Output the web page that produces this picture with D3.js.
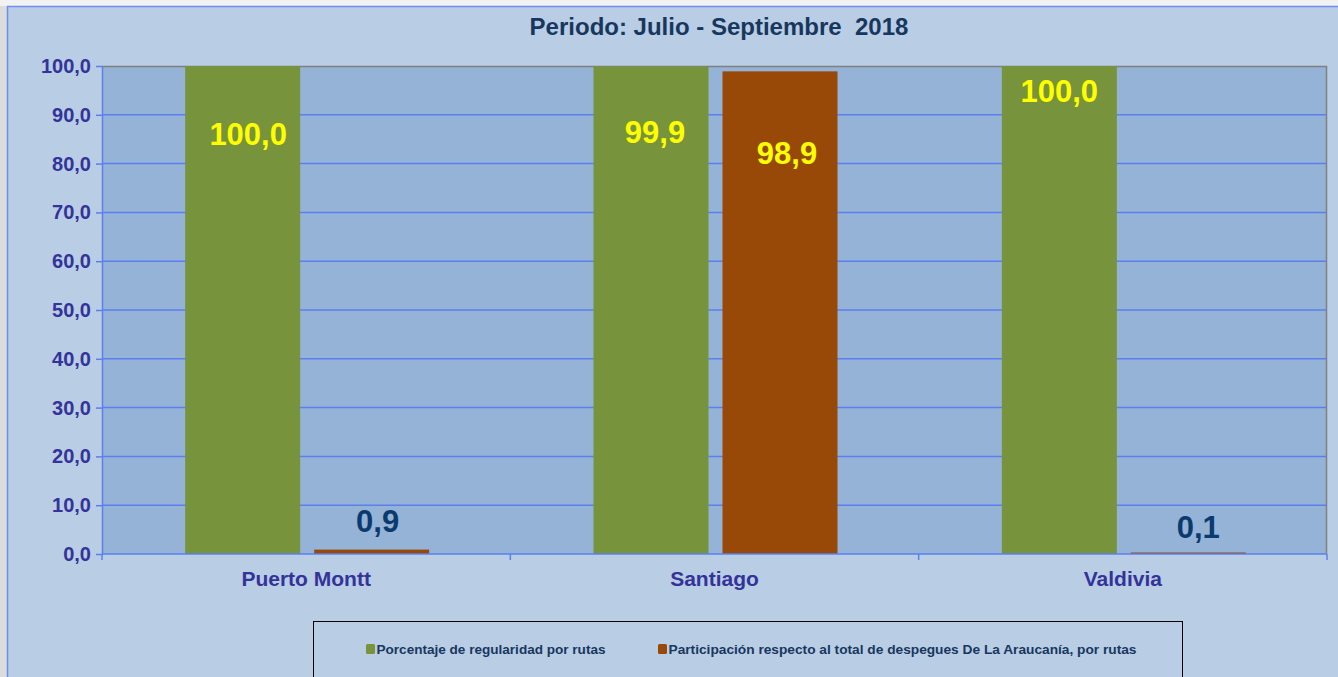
<!DOCTYPE html>
<html>
<head>
  <meta charset="UTF-8">
  <title>Periodo: Julio - Septiembre 2018</title>
  <script src="https://d3js.org/d3.v7.min.js"></script>
  <style>
    body { margin: 0; background: #dcdcdc; }
    svg { display: block; font-family: "Liberation Sans", Arial, sans-serif; }
  </style>
</head>
<body>
  <svg width="1338" height="677"></svg>

  <script>
    const routes = ['Puerto Montt', 'Santiago', 'Valdivia'];
    const regularidad = [100.0, 99.9, 100.0];
    const participacion = [0.9, 98.9, 0.1];
    const seriesNames = ['Porcentaje de regularidad por rutas',
      'Participación respecto al total de despegues De La Araucanía, por rutas'];
    const yTicks = [0, 10, 20, 30, 40, 50, 60, 70, 80, 90, 100];

    const colors = ['#77933c', '#984807'];
    // label nudges (px) from the bar top, per series/route (manual like in the original)
    const labelDy = [[79, 76.5, 36], [-17.5, 93, -15.5]];
    const labelDx = [[5.5, 4, 0], [6, 7, 10]];
    const labelColor = [['#ffff00', '#ffff00', '#ffff00'], ['#0b3a6e', '#ffff00', '#0b3a6e']];

    const svg = d3.select("svg");

    svg.append("rect").attr("x", 0).attr("y", 0).attr("width", 1338).attr("height", 6).attr("fill", "#f2f2f2");
    svg.append("rect").attr("x", 7.5).attr("y", 6.5).attr("width", 1340).attr("height", 680)
      .attr("fill", "#b9cde5").attr("stroke", "#6f8ff0").attr("stroke-width", 1.5);

    const margin = { top: 66, left: 102 };
    const w = 1327 - 102, h = 554 - 66;
    const g = svg.append("g").attr("transform", `translate(${margin.left},${margin.top})`);

    const x = d3.scaleBand().domain(routes).range([0, w]);
    const y = d3.scaleLinear().domain([0, 100]).range([h, 0]);

    g.append("rect").attr("width", w).attr("height", h).attr("fill", "#95b3d7");

    // gridlines
    g.selectAll(".grid").data(yTicks.slice(1, -1)).enter().append("line")
      .attr("x1", 0).attr("x2", w).attr("y1", d => y(d)).attr("y2", d => y(d))
      .attr("stroke", "#5b7ff0").attr("stroke-width", 1.5);
    g.append("path").attr("d", `M0,0.5H${w - 0.5}V${h}`).attr("fill", "none").attr("stroke", "#808080").attr("stroke-width", 1.5);

    const fmt = v => d3.format(".1f")(v).replace(".", ",");

    const yAxis = g.append("g").call(d3.axisLeft(y).tickValues(yTicks).tickSize(6).tickSizeOuter(0).tickFormat(fmt));
    yAxis.select(".domain").attr("stroke", "#5b7ff0").attr("stroke-width", 1.5);
    yAxis.selectAll(".tick line").attr("stroke", "#5b7ff0").attr("stroke-width", 1.5);
    yAxis.selectAll("text").attr("fill", "#333399").attr("font-size", 20).attr("font-weight", "bold")
      .attr("font-family", "Liberation Sans, Arial, sans-serif").attr("x", -11);

    const bw = 115;
    const offs = [-121, 8];
    [regularidad, participacion].forEach((vals, s) => {
      g.selectAll(".bar" + s).data(vals).enter().append("rect")
        .attr("x", (d, i) => x(routes[i]) + x.bandwidth() / 2 + offs[s])
        .attr("y", d => Math.min(y(d), h - 1.5))
        .attr("width", bw)
        .attr("height", d => Math.max(h - y(d), 1.5))
        .attr("fill", colors[s]);
    });

    // x axis
    g.append("line").attr("x1", 0).attr("x2", w).attr("y1", h).attr("y2", h).attr("stroke", "#5b7ff0").attr("stroke-width", 1.5);
    g.selectAll(".xt").data(d3.range(routes.length + 1)).enter().append("line")
      .attr("x1", i => i * x.step()).attr("x2", i => i * x.step())
      .attr("y1", h).attr("y2", h + 6).attr("stroke", "#5b7ff0").attr("stroke-width", 1.5);
    g.selectAll(".xl").data(routes).enter().append("text")
      .attr("x", d => x(d) + x.bandwidth() / 2).attr("y", h + 32)
      .attr("text-anchor", "middle").attr("font-size", 21).attr("font-weight", "bold").attr("fill", "#333399")
      .text(d => d);

    // value labels
    [regularidad, participacion].forEach((vals, s) => {
      g.selectAll(".lab" + s).data(vals).enter().append("text")
        .attr("x", (d, i) => x(routes[i]) + x.bandwidth() / 2 + offs[s] + bw / 2 + labelDx[s][i])
        .attr("y", (d, i) => y(d) + labelDy[s][i])
        .attr("text-anchor", "middle").attr("font-size", 31).attr("font-weight", "bold")
        .attr("fill", (d, i) => labelColor[s][i])
        .text(fmt);
    });

    // title
    svg.append("text").attr("x", 719).attr("y", 35).attr("text-anchor", "middle")
      .attr("font-size", 24).attr("font-weight", "bold").attr("fill", "#17375e")
      .attr("xml:space", "preserve").text("Periodo: Julio - Septiembre  2018");

    // legend
    const lg = svg.append("g");
    lg.append("rect").attr("x", 313.5).attr("y", 621.5).attr("width", 869).attr("height", 70)
      .attr("fill", "none").attr("stroke", "#000").attr("stroke-width", 1);
    const lx = [366, 658];
    seriesNames.forEach((n, i) => {
      lg.append("rect").attr("x", lx[i]).attr("y", 644).attr("width", 9).attr("height", 10).attr("rx", 1.5).attr("fill", colors[i]);
      lg.append("text").attr("x", lx[i] + 10.5).attr("y", 654).attr("font-size", 13).attr("font-weight", "bold")
        .attr("fill", "#17375e").attr("textLength", i === 0 ? 229 : 468).attr("lengthAdjust", "spacingAndGlyphs").text(n);
    });
  </script>
</body>
</html>
